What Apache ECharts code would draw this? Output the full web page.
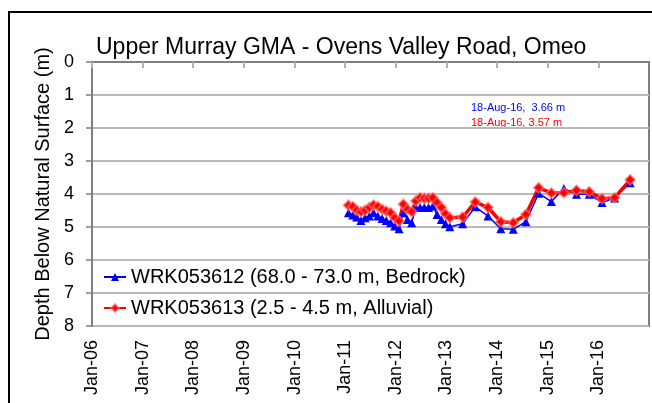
<!DOCTYPE html>
<html>
<head>
<meta charset="utf-8">
<script src="https://cdn.jsdelivr.net/npm/echarts@6/dist/echarts.min.js"></script>
<style>html,body{margin:0;padding:0;background:#fff;}#c{width:652px;height:403px;}</style>
</head>
<body>
<div id="c"></div>
<script>
const titleText = 'Upper Murray GMA - Ovens Valley Road, Omeo';
const yAxisName = 'Depth Below Natural Surface (m)';
const seriesNames = ['WRK053612 (68.0 - 73.0 m, Bedrock)', 'WRK053613 (2.5 - 4.5 m, Alluvial)'];
const monthNames = ['Jan','Feb','Mar','Apr','May','Jun','Jul','Aug','Sep','Oct','Nov','Dec'];
const dates = [
  '2011-01-25','2011-02-25','2011-03-25','2011-04-25','2011-05-25','2011-06-25',
  '2011-07-25','2011-08-25','2011-09-25','2011-10-25','2011-11-25','2011-12-25',
  '2012-01-25','2012-02-25','2012-03-25','2012-04-25','2012-05-25','2012-06-25',
  '2012-07-25','2012-08-25','2012-09-25','2012-10-25','2012-11-25','2012-12-25',
  '2013-01-25','2013-04-28','2013-07-28','2013-10-28','2014-01-28','2014-04-28',
  '2014-07-28','2014-10-28','2015-01-28','2015-04-28','2015-07-28','2015-10-28',
  '2016-01-28','2016-04-28','2016-08-18'
];
const bedrockDepth = [4.57,4.64,4.70,4.80,4.72,4.67,4.57,4.67,4.74,4.80,4.87,4.97,5.05,4.57,4.77,4.87,4.41,4.41,4.41,4.41,4.36,4.62,4.77,4.90,4.99,4.90,4.39,4.67,5.05,5.07,4.84,3.98,4.23,3.83,4.01,4.01,4.26,4.12,3.66];
const alluvialDepth = [4.34,4.38,4.49,4.54,4.49,4.41,4.33,4.38,4.46,4.52,4.57,4.72,4.82,4.31,4.46,4.54,4.21,4.11,4.13,4.13,4.11,4.26,4.41,4.60,4.72,4.70,4.24,4.41,4.84,4.87,4.62,3.81,3.97,3.96,3.89,3.93,4.14,4.11,3.57];
const annotations = ['18-Aug-16,  3.66 m', '18-Aug-16, 3.57 m'];

const FONT = 'Liberation Sans, Arial, sans-serif';
const chart = echarts.init(document.getElementById('c'), null, {renderer: 'canvas'});
chart.setOption({
  animation: false,
  backgroundColor: '#fff',
  title: {
    text: titleText, left: 91, top: 31,
    textStyle: {fontFamily: FONT, fontSize: 23, fontWeight: 'normal', color: '#000'}
  },
  grid: {left: 92, top: 62, right: 3, bottom: 77, show: true, borderColor: '#7f7f7f', borderWidth: 2, outerBoundsMode: 'none', containLabel: false},
  legend: {
    left: 98, top: 262, orient: 'vertical', itemWidth: 22, itemHeight: 10, itemGap: 11,
    textStyle: {fontFamily: FONT, fontSize: 20, color: '#000', lineHeight: 20},
    data: seriesNames
  },
  xAxis: {
    type: 'time', min: '2006-01-01', max: '2017-01-01',
    splitNumber: 11, minInterval: 365 * 864e5, maxInterval: 366 * 864e5,
    axisLine: {lineStyle: {color: '#7f7f7f', width: 2}},
    axisTick: {show: true, length: 6, lineStyle: {color: '#b0b0b0', width: 2}},
    splitLine: {show: false},
    axisLabel: {
      rotate: 90, margin: 14, fontFamily: FONT, fontSize: 18, color: '#000', showMaxLabel: false, hideOverlap: false,
      formatter: function (v) { const d = new Date(v); return monthNames[d.getMonth()] + '-' + String(d.getFullYear()).slice(-2); }
    }
  },
  yAxis: {
    type: 'value', inverse: true, min: 0, max: 8, interval: 1,
    name: yAxisName, nameLocation: 'middle', nameGap: 38,
    nameTextStyle: {fontFamily: FONT, fontSize: 20, color: '#000'},
    axisLine: {show: true, lineStyle: {color: '#7f7f7f', width: 2}},
    axisTick: {show: true, length: 6, lineStyle: {color: '#7f7f7f', width: 1.5}},
    splitLine: {show: true, lineStyle: {color: '#b8b8b8', width: 2}},
    axisLabel: {margin: 18, fontFamily: FONT, fontSize: 18, color: '#000'}
  },
  series: [
    {
      name: seriesNames[0], type: 'line',
      data: dates.map((d, i) => [d, bedrockDepth[i]]),
      symbol: 'triangle', symbolSize: 9,
      lineStyle: {color: '#0000ff', width: 1.5},
      itemStyle: {color: '#0000ff'}
    },
    {
      name: seriesNames[1], type: 'line',
      data: dates.map((d, i) => [d, alluvialDepth[i]]),
      symbol: 'diamond', symbolSize: 10,
      lineStyle: {color: '#ff0000', width: 3.5},
      itemStyle: {color: '#ff0000', borderColor: 'rgba(255,120,120,0.55)', borderWidth: 2}
    }
  ],
  graphic: [
    {type: 'rect', shape: {x: 9, y: 12, width: 700, height: 500}, style: {fill: null, stroke: '#000', lineWidth: 2}, silent: true},
    {type: 'text', left: 471, top: 102, style: {text: annotations[0], fill: '#0000ff', font: '11px Liberation Sans, Arial, sans-serif'}},
    {type: 'text', left: 471, top: 117, style: {text: annotations[1], fill: '#ff0000', font: '11px Liberation Sans, Arial, sans-serif'}}
  ]
});
</script>
</body>
</html>
